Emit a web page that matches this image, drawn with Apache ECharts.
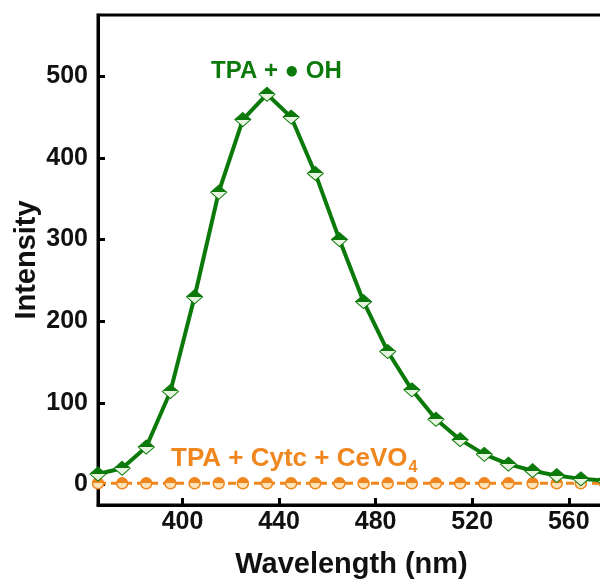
<!DOCTYPE html>
<html>
<head>
<meta charset="utf-8">
<script src="https://cdn.jsdelivr.net/npm/echarts@6/dist/echarts.min.js"></script>
<style>
  html, body { margin: 0; padding: 0; background: #fff; }
  #chart { width: 600px; height: 584px; }
</style>
</head>
<body>
<div id="chart"></div>
<script>
// emission spectra
var wavelength = [365, 375, 385, 395, 405, 415, 425, 435, 445, 455, 465,
                  475, 485, 495, 505, 515, 525, 535, 545, 555, 565, 575];
var tpaOH = [13, 20, 46, 114, 230, 358, 447, 478, 450, 381, 300,
             224, 163, 116, 80, 55, 37, 25, 17, 11, 7, 5];
var tpaCytc = [1.5, 1.5, 1.5, 1.5, 1.5, 1.5, 1.5, 1.5, 1.5, 1.5, 1.5,
               1.5, 1.5, 1.5, 1.5, 1.5, 1.5, 1.5, 1.5, 1.5, 1.5, 1.5];
var xTicks = [400, 440, 480, 520, 560];
var yTicks = [0, 100, 200, 300, 400, 500];

var GREEN = '#0b7a0b';
var ORANGE = '#f0861e';
var FONT = '"Liberation Sans", Arial, sans-serif';

function pairs(xs, ys) {
    return xs.map(function (x, i) { return [x, ys[i]]; });
}
// top half filled, bottom half pale
function halfFill(top, bottom) {
    return {
        type: 'linear', x: 0, y: 0, x2: 0, y2: 1,
        colorStops: [
            { offset: 0, color: top }, { offset: 0.5, color: top },
            { offset: 0.5, color: bottom }, { offset: 1, color: bottom }
        ]
    };
}

var chart = echarts.init(document.getElementById('chart'));
chart.setOption({
    animation: false,
    grid: {
        left: 98, top: 15, right: -5, bottom: 79,
        outerBoundsMode: 'none', containLabel: false,
        show: true, borderColor: '#000', borderWidth: 3
    },
    xAxis: {
        type: 'value', min: 365, max: 575,
        name: 'Wavelength (nm)', nameLocation: 'middle', nameGap: 45,
        nameTextStyle: { fontFamily: FONT, fontWeight: 'bold', fontSize: 29, color: '#111' },
        axisLine: { onZero: false, lineStyle: { color: '#000', width: 3 } },
        axisTick: { inside: true, length: 7, lineStyle: { width: 3, color: '#000' }, customValues: xTicks },
        axisLabel: { fontFamily: FONT, fontWeight: 'bold', fontSize: 25, color: '#111', margin: 5, customValues: xTicks },
        splitLine: { show: false }
    },
    yAxis: {
        type: 'value', min: -25, max: 575,
        name: 'Intensity', nameLocation: 'middle', nameGap: 57, nameMoveOverlap: false,
        nameTextStyle: { fontFamily: FONT, fontWeight: 'bold', fontSize: 29, color: '#111' },
        axisLine: { onZero: false, lineStyle: { color: '#000', width: 3 } },
        axisTick: { inside: true, length: 7, lineStyle: { width: 3, color: '#000' }, customValues: yTicks },
        axisLabel: { fontFamily: FONT, fontWeight: 'bold', fontSize: 25, color: '#111', margin: 10, customValues: yTicks },
        splitLine: { show: false }
    },
    series: [
        {
            type: 'line', data: pairs(wavelength, tpaCytc),
            symbol: 'circle', symbolSize: 11,
            lineStyle: { color: ORANGE, width: 3, type: [8, 5] },
            itemStyle: { color: halfFill(ORANGE, '#fde3b8'), borderColor: ORANGE, borderWidth: 1.5 },
            z: 2
        },
        {
            type: 'line', data: pairs(wavelength, tpaOH),
            symbol: 'diamond', symbolSize: [16, 14],
            lineStyle: { color: GREEN, width: 4 },
            itemStyle: { color: halfFill(GREEN, '#e6f4e0'), borderColor: GREEN, borderWidth: 1 },
            z: 3
        }
    ],
    graphic: [
        {
            type: 'text', left: 211, top: 59, z: 10,
            style: { text: 'TPA + \u25CF OH', fill: GREEN, font: 'bold 24px ' + FONT }
        },
        {
            type: 'text', left: 171, top: 446, z: 10,
            style: {
                text: '{a|TPA + Cytc + CeVO}{s|4}', fill: ORANGE,
                rich: {
                    a: { fontFamily: FONT, fontWeight: 'bold', fontSize: 26, fill: ORANGE },
                    s: { fontFamily: FONT, fontWeight: 'bold', fontSize: 16, fill: ORANGE, padding: [18, 0, 0, 1] }
                }
            }
        }
    ]
});
</script>
</body>
</html>
